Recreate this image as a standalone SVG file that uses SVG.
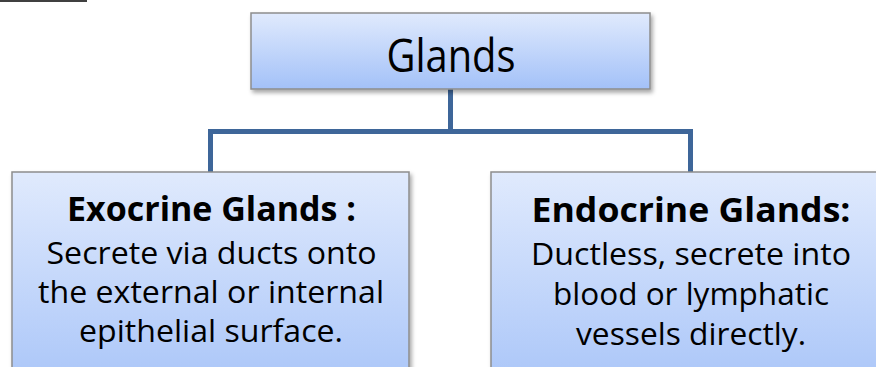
<svg xmlns="http://www.w3.org/2000/svg" width="876" height="367" viewBox="0 0 876 367">
<defs>
<linearGradient id="g" x1="0" y1="0" x2="0" y2="1">
<stop offset="0" stop-color="#e0eafd"/>
<stop offset="1" stop-color="#a3c1f8"/>
</linearGradient>
<linearGradient id="g2" x1="0" y1="0" x2="0" y2="1">
<stop offset="0" stop-color="#e0eafd"/>
<stop offset="1" stop-color="#a6c3f8"/>
</linearGradient>
<filter id="sh" x="-5%" y="-10%" width="115%" height="130%">
<feDropShadow dx="2" dy="3" stdDeviation="2.2" flood-color="#000" flood-opacity="0.35"/>
</filter>
<style>
.box{stroke:#8d8d8d;stroke-width:1.5;filter:url(#sh)}
.t{font-family:"Open Sans","Liberation Sans",sans-serif;fill:#000;text-anchor:middle}
.b{font-weight:bold;font-size:34.5px}
.n{font-size:31px}
.conn{fill:none;stroke:#3e6699;stroke-width:5}
</style>
</defs>
<line x1="0" y1="1" x2="87" y2="1" stroke="#000" stroke-width="1.5"/>
<g id="connectors">
<path class="conn" d="M450.5 89 V131.5 M210.5 172 V131.5 H690.5 V172"/>
</g>
<g id="glands">
<rect class="box" x="251" y="13" width="399" height="76" fill="url(#g)"/>
<text class="t" x="451" y="72" font-size="46.5" textLength="129" lengthAdjust="spacingAndGlyphs">Glands</text>
</g>
<g id="exocrine">
<rect class="box" x="12" y="172" width="397" height="230" fill="url(#g2)"/>
<text class="t b" x="211.5" y="221" textLength="289" lengthAdjust="spacingAndGlyphs">Exocrine Glands :</text>
<text class="t n" x="211.5" y="264" textLength="330" lengthAdjust="spacingAndGlyphs">Secrete via ducts onto</text>
<text class="t n" x="211" y="303" textLength="346" lengthAdjust="spacingAndGlyphs">the external or internal</text>
<text class="t n" x="211" y="342" textLength="264" lengthAdjust="spacingAndGlyphs">epithelial surface.</text>
</g>
<g id="endocrine">
<rect class="box" x="491" y="172" width="399" height="230" fill="url(#g2)"/>
<text class="t b" x="691" y="222" textLength="319" lengthAdjust="spacingAndGlyphs">Endocrine Glands:</text>
<text class="t n" x="691" y="265" textLength="320" lengthAdjust="spacingAndGlyphs">Ductless, secrete into</text>
<text class="t n" x="691" y="305" textLength="276" lengthAdjust="spacingAndGlyphs">blood or lymphatic</text>
<text class="t n" x="691" y="345" textLength="230" lengthAdjust="spacingAndGlyphs">vessels directly.</text>
</g>
</svg>
